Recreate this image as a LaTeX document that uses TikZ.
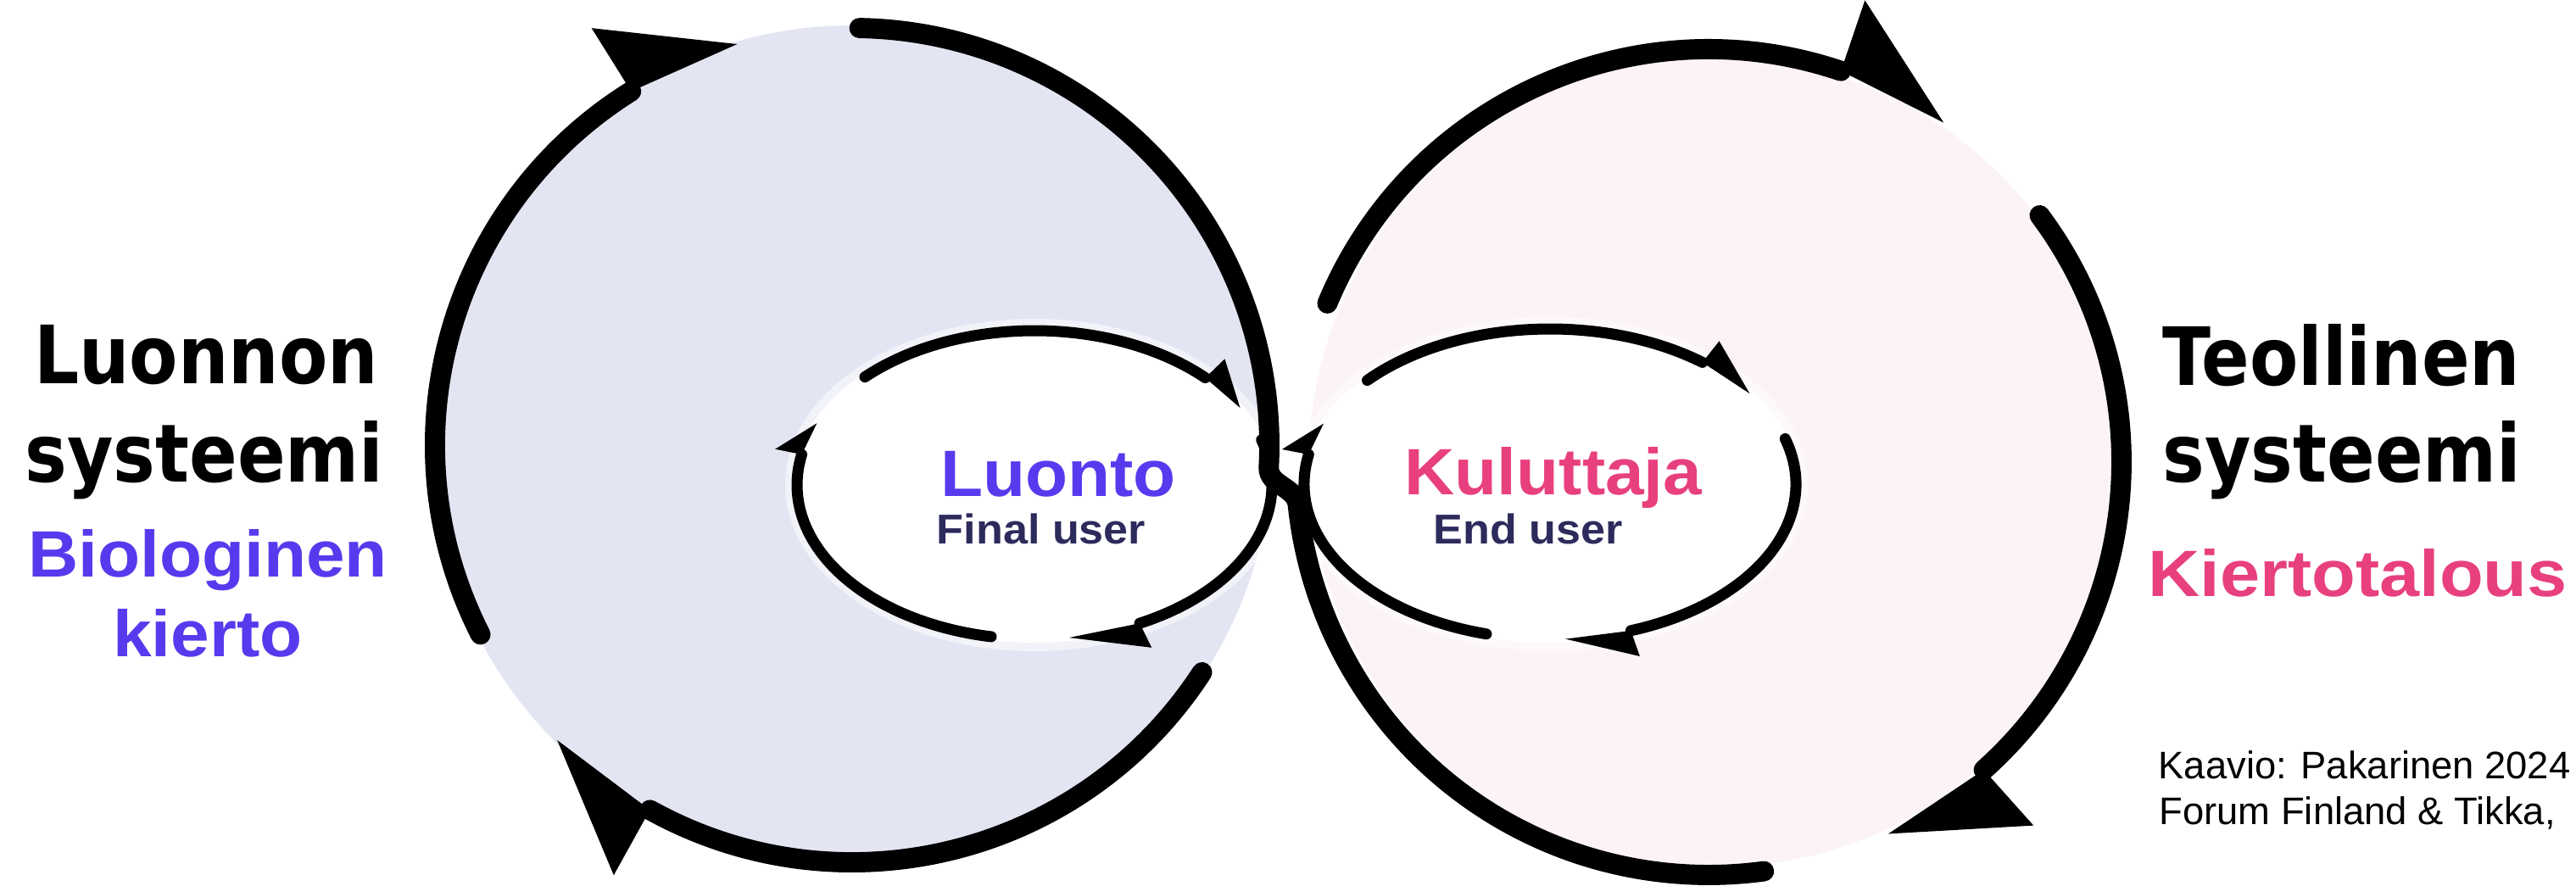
\documentclass[tikz,border=0pt]{standalone}
\usepackage{fontspec}
\newfontfamily\titlefam[FakeStretch=0.88]{DejaVu Sans}
\newfontfamily\labelfam[FakeStretch=1.06]{Liberation Sans}
\newfontfamily\widelabelfam[FakeStretch=1.095]{Liberation Sans}
\newfontfamily\creditfam{Liberation Sans}
\definecolor{violetc}{RGB}{88,58,238}
\definecolor{pinkc}{RGB}{232,64,126}
\definecolor{navyc}{RGB}{45,42,92}
\definecolor{lavenderfill}{RGB}{227,229,243}
\definecolor{pinkfill}{RGB}{252,243,245}
\begin{document}
\begin{tikzpicture}[
  bigline/.style={line width=6.8pt, line cap=round},
  smallline/.style={line width=3.7pt, line cap=round},
  halo/.style={white, opacity=0.55},
  titletext/.style={inner sep=0pt, font=\titlefam\bfseries\fontsize{27pt}{30pt}\selectfont},
  labeltext/.style={inner sep=0pt, font=\labelfam\bfseries\fontsize{22pt}{26pt}\selectfont},
  widelabeltext/.style={inner sep=0pt, font=\widelabelfam\bfseries\fontsize{22pt}{26pt}\selectfont},
  usertext/.style={inner sep=0pt, text=navyc, font=\labelfam\bfseries\fontsize{14pt}{16pt}\selectfont},
  credittext/.style={inner sep=0pt, anchor=base west, font=\creditfam\fontsize{12.9pt}{15pt}\selectfont}
]
\useasboundingbox (0,0) rectangle (30.38,10.44);
\fill[white] (0,0) rectangle (30.38,10.44);
\clip (0,0) rectangle (30.38,10.44);

\coordinate (C1) at (10.05,5.19);
\coordinate (C2) at (20.15,4.99);
\coordinate (P2) at (20.22,4.99);
\coordinate (E1) at (12.20,4.72);
\coordinate (E2) at (18.28,4.73);

% circle fills
\fill[lavenderfill] (C1) circle[radius=4.95];
\fill[pinkfill] (P2) circle[radius=4.78];

% inner white fills with soft halo
\fill[halo] (E1) ellipse[x radius=2.94, y radius=1.96];
\fill[halo] (E2) ellipse[x radius=3.04, y radius=1.97];
\fill[white] (E1) ellipse[x radius=2.84, y radius=1.86];
\fill[white] (E2) ellipse[x radius=2.94, y radius=1.87];

% big arrow heads (outer half only)
\fill ([shift={(122:5.80)}]C1) -- ([shift={(122:4.92)}]C1) -- ([shift={(106:4.92)}]C1) -- cycle;
\fill ([shift={(-119:5.80)}]C1) -- ([shift={(-119:4.92)}]C1) -- ([shift={(-135:4.92)}]C1) -- cycle;
\fill ([shift={(71.3:5.75)}]C2) -- ([shift={(71.3:4.87)}]C2) -- ([shift={(55.3:4.87)}]C2) -- cycle;
\fill ([shift={(-48.2:5.75)}]C2) -- ([shift={(-48.2:4.87)}]C2) -- ([shift={(-64.2:4.87)}]C2) -- cycle;

% big arcs
\draw[bigline] ([shift={(207:4.92)}]C1) arc[start angle=207, end angle=122, radius=4.92];
\draw[bigline] ([shift={(-33:4.92)}]C1) arc[start angle=-33, end angle=-119, radius=4.92];
\draw[bigline] ([shift={(157.4:4.87)}]C2) arc[start angle=157.4, end angle=71.3, radius=4.87];
\draw[bigline] ([shift={(36.7:4.87)}]C2) arc[start angle=36.7, end angle=-48.2, radius=4.87];

% inner arrow heads (outer half only)
\fill ([shift={(44:3.12 and 2.14)}]E1) -- ([shift={(44:2.80 and 1.82)}]E1) -- ([shift={(30:2.80 and 1.82)}]E1) -- cycle;
\fill ([shift={(-63.7:3.12 and 2.14)}]E1) -- ([shift={(-63.7:2.80 and 1.82)}]E1) -- ([shift={(-81.6:2.80 and 1.82)}]E1) -- cycle;
\fill ([shift={(-191.4:3.12 and 2.14)}]E1) -- ([shift={(-191.4:2.80 and 1.82)}]E1) -- ([shift={(-203.6:2.80 and 1.82)}]E1) -- cycle;
\fill ([shift={(51.7:3.22 and 2.15)}]E2) -- ([shift={(51.7:2.90 and 1.83)}]E2) -- ([shift={(35.7:2.90 and 1.83)}]E2) -- cycle;
\fill ([shift={(-70.8:3.22 and 2.15)}]E2) -- ([shift={(-70.8:2.90 and 1.83)}]E2) -- ([shift={(-86.4:2.90 and 1.83)}]E2) -- cycle;
\fill ([shift={(-191:3.22 and 2.15)}]E2) -- ([shift={(-191:2.90 and 1.83)}]E2) -- ([shift={(-203:2.90 and 1.83)}]E2) -- cycle;

% inner arcs
\draw[smallline] ([shift={(135.6:2.80 and 1.82)}]E1) arc[start angle=135.6, end angle=44, x radius=2.80, y radius=1.82];
\draw[smallline] ([shift={(17:2.80 and 1.82)}]E1) arc[start angle=17, end angle=-63.7, x radius=2.80, y radius=1.82];
\draw[smallline] ([shift={(-100.5:2.80 and 1.82)}]E1) arc[start angle=-100.5, end angle=-191.4, x radius=2.80, y radius=1.82];
\draw[smallline] ([shift={(138:2.90 and 1.83)}]E2) arc[start angle=138, end angle=51.7, x radius=2.90, y radius=1.83];
\draw[smallline] ([shift={(17:2.90 and 1.83)}]E2) arc[start angle=17, end angle=-70.8, x radius=2.90, y radius=1.83];
\draw[smallline] ([shift={(-105:2.90 and 1.83)}]E2) arc[start angle=-105, end angle=-191, x radius=2.90, y radius=1.83];

% S-shaped connecting arc
\draw[bigline] ([shift={(89:4.92)}]C1) arc[start angle=89, end angle=-3, radius=4.92]
  to[out=-93, in=96] ([shift={(186:4.87)}]C2) arc[start angle=186, end angle=277.7, radius=4.87];

% texts
\node[titletext, anchor=base] (luonnon) at (2.43,5.91) {Luonnon};
\node[titletext, anchor=base] (systeemiL) at (2.41,4.76) {systeemi};
\node[labeltext, anchor=base, text=violetc] (biologinen) at (2.45,3.64) {Biologinen};
\node[labeltext, anchor=base, text=violetc] (kierto) at (2.45,2.70) {kierto};

\node[titletext, anchor=base west] (teollinen) at (25.50,5.89) {Teollinen};
\node[titletext, anchor=base west] (systeemiR) at (25.50,4.76) {systeemi};
\node[widelabeltext, anchor=base west, text=pinkc] (kiertotalous) at (25.33,3.41) {Kiertotalous};

\node[labeltext, anchor=base, text=violetc] (luonto) at (12.48,4.59) {Luonto};
\node[usertext, anchor=base] (final) at (12.28,4.03) {Final user};
\node[labeltext, anchor=base, text=pinkc] (kuluttaja) at (18.32,4.61) {Kuluttaja};
\node[usertext, anchor=base] (enduser) at (18.02,4.03) {End user};

\node[credittext] (credit1) at (25.45,1.26) {Kaavio: Pakarinen 2024};
\node[credittext] (credit2) at (25.46,0.72) {Forum Finland \& Tikka,};
\end{tikzpicture}
\end{document}
